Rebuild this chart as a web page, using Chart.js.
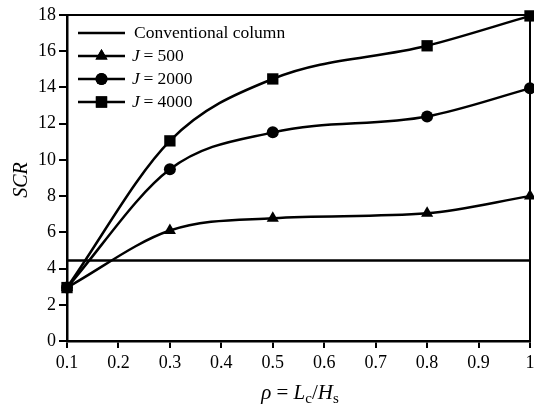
<!DOCTYPE html>
<html>
<head>
<meta charset="utf-8">
<script src="https://cdn.jsdelivr.net/npm/chart.js@4"></script>
<style>
  html, body { margin: 0; padding: 0; background: #fff; }
  #wrap { width: 534px; height: 412px; }
</style>
</head>
<body>
<div id="wrap"><canvas id="scrChart" width="534" height="412"></canvas></div>
<script>
// --- 데이터 ---
const rhoValues = [0.1, 0.3, 0.5, 0.8, 1.0];
const conventionalScr = 4.45;
const scrJ500 = [2.95, 6.1, 6.78, 7.05, 8.0];
const scrJ2000 = [2.95, 9.48, 11.52, 12.4, 13.95];
const scrJ4000 = [2.95, 11.05, 14.47, 16.3, 17.95];
const legendLabels = ['Conventional column', '500', '2000', '4000'];

const FONT = '"Liberation Serif", "Times New Roman", serif';

function toPoints(ys) {
    return rhoValues.map((x, i) => ({ x: x, y: ys[i] }));
}

// 범례, 축 제목, 테두리 그리기
const decorPlugin = {
    id: 'decor',
    afterDraw(chart) {
        const ctx = chart.ctx;
        const a = chart.chartArea;
        ctx.save();
        // 위/오른쪽 테두리
        ctx.strokeStyle = '#000';
        ctx.lineWidth = 2;
        ctx.beginPath();
        ctx.moveTo(a.left, a.top);
        ctx.lineTo(a.right, a.top);
        ctx.lineTo(a.right, a.bottom);
        ctx.stroke();

        // 범례
        const styles = [null, 'triangle', 'circle', 'rect'];
        const radii = [0, 7, 6, 8];
        const rowsY = [33, 56, 79, 102];
        ctx.fillStyle = '#000';
        for (let i = 0; i < 4; i++) {
            const y = rowsY[i];
            ctx.lineWidth = 2.5;
            ctx.beginPath();
            ctx.moveTo(78, y);
            ctx.lineTo(125, y);
            ctx.stroke();
            if (styles[i]) {
                Chart.helpers.drawPoint(ctx, { pointStyle: styles[i], radius: radii[i], borderWidth: 0 }, 101.5, y);
                ctx.fill();
            }
            ctx.textBaseline = 'middle';
            ctx.textAlign = 'left';
            if (i === 0) {
                ctx.font = '17.5px ' + FONT;
                ctx.fillText(legendLabels[0], 134, y);
            } else {
                ctx.font = 'italic 17.5px ' + FONT;
                ctx.fillText('J', 132, y);
                ctx.font = '17.5px ' + FONT;
                ctx.fillText(' = ' + legendLabels[i], 139, y);
            }
        }

        // y축 제목
        ctx.save();
        ctx.translate(22, 180);
        ctx.rotate(-Math.PI / 2);
        ctx.font = 'italic 20px ' + FONT;
        ctx.textAlign = 'center';
        ctx.textBaseline = 'middle';
        ctx.fillText('SCR', 0, 0);
        ctx.restore();

        // x축 제목: ρ = Lc/Hs
        const parts = [
            { t: 'ρ', f: 'italic 21px ' + FONT, dy: 0 },
            { t: ' = ', f: '21px ' + FONT, dy: 0 },
            { t: 'L', f: 'italic 21px ' + FONT, dy: 0 },
            { t: 'c', f: '15px ' + FONT, dy: 4 },
            { t: '/', f: '21px ' + FONT, dy: 0 },
            { t: 'H', f: 'italic 21px ' + FONT, dy: 0 },
            { t: 's', f: '15px ' + FONT, dy: 4 }
        ];
        let total = 0;
        parts.forEach(p => { ctx.font = p.f; p.w = ctx.measureText(p.t).width; total += p.w; });
        let x = 300 - total / 2;
        ctx.textAlign = 'left';
        ctx.textBaseline = 'alphabetic';
        parts.forEach(p => { ctx.font = p.f; ctx.fillText(p.t, x, 399 + p.dy); x += p.w; });
        ctx.restore();
    }
};

const lineStyle = (label, data, pointStyle, radius) => ({
    label: label,
    data: toPoints(data),
    showLine: true,
    borderColor: '#000',
    backgroundColor: '#000',
    borderWidth: 2.5,
    pointStyle: pointStyle,
    pointRadius: radius,
    pointBorderWidth: 0,
    tension: 0.4,
    cubicInterpolationMode: 'monotone',
    clip: false
});

new Chart(document.getElementById('scrChart'), {
    type: 'scatter',
    data: {
        datasets: [
            {
                label: legendLabels[0],
                data: [{ x: 0.1, y: conventionalScr }, { x: 1.0, y: conventionalScr }],
                showLine: true,
                borderColor: '#000',
                borderWidth: 2.5,
                pointRadius: 0
            },
            lineStyle('J = 500', scrJ500, 'triangle', 7),
            lineStyle('J = 2000', scrJ2000, 'circle', 6),
            lineStyle('J = 4000', scrJ4000, 'rect', 8)
        ]
    },
    options: {
        responsive: false,
        animation: false,
        layout: { autoPadding: false, padding: { top: 15, right: 4, left: 0, bottom: 0 } },
        plugins: {
            legend: { display: false },
            tooltip: { enabled: false }
        },
        scales: {
            x: {
                type: 'linear',
                min: 0.1,
                max: 1.0,
                afterFit(scale) {
                    scale.height = 71;
                    scale.paddingLeft = 0;
                    scale.paddingRight = 0;
                },
                ticks: {
                    stepSize: 0.1,
                    color: '#000',
                    padding: 4,
                    maxRotation: 0,
                    font: { family: FONT, size: 18 },
                    callback: v => String(Number(v.toFixed(1)))
                },
                grid: { drawOnChartArea: false, drawTicks: true, tickLength: 7, color: '#000', lineWidth: 2 },
                border: { display: true, color: '#000', width: 2.5 }
            },
            y: {
                min: 0,
                max: 18,
                afterFit(scale) {
                    scale.width = 67;
                    scale.paddingTop = 0;
                    scale.paddingBottom = 0;
                },
                ticks: {
                    stepSize: 2,
                    color: '#000',
                    padding: 3,
                    font: { family: FONT, size: 18 }
                },
                grid: { drawOnChartArea: false, drawTicks: true, tickLength: 8, color: '#000', lineWidth: 2 },
                border: { display: true, color: '#000', width: 2.5 }
            }
        }
    },
    plugins: [decorPlugin]
});
</script>
</body>
</html>
